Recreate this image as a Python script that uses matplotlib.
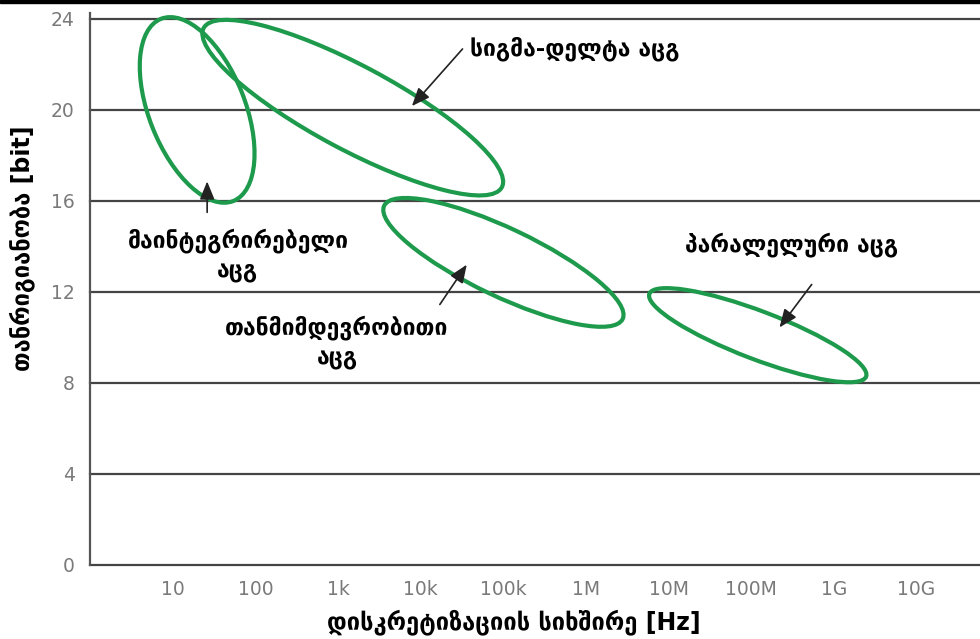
import matplotlib
matplotlib.use("Agg")
import matplotlib.pyplot as plt
from matplotlib.patches import Ellipse
from matplotlib.transforms import ScaledTranslation

# ---- data ----
freq_ticks = [1e1, 1e2, 1e3, 1e4, 1e5, 1e6, 1e7, 1e8, 1e9, 1e10]
freq_labels = ["10", "100", "1k", "10k", "100k", "1M", "10M", "100M", "1G", "10G"]
bit_ticks = [0, 4, 8, 12, 16, 20, 24]

adc_names = ["მაინტეგრირებელი\nაცგ", "სიგმა-დელტა აცგ",
             "თანმიმდევრობითი\nაცგ", "პარალელური აცგ"]
# region centres (frequency Hz, resolution bits)
region_freq = [19.6, 1.5e3, 1.0e5, 1.2e8]
region_bits = [20.0, 20.1, 13.3, 10.1]
# region shape (semi-axes in pixels, tilt in degrees)
region_a = [98, 169, 132, 116]
region_b = [48, 42, 34, 24]
region_angle = [-68.4, -28.1, -25.4, -20.9]

# annotation arrows: tip (freq, bits), tail (freq, bits)
arrow_tip_f = [25.9, 7.8e3, 3.6e4, 2.2e8]
arrow_tip_b = [16.86, 20.17, 13.2, 10.44]
arrow_tail_f = [25.9, 3.2e4, 1.7e4, 5.4e8]
arrow_tail_b = [15.5, 22.68, 11.45, 12.33]
# label anchor (freq, bits)
label_f = [61, 3.9e4, 966, 3.1e8]
label_b = [13.6, 22.68, 9.78, 14.09]
label_ha = ["center", "left", "center", "center"]

W, H = 980, 639
fig = plt.figure(figsize=(W / 100, H / 100), dpi=100)
ax = fig.add_axes([90 / W, (H - 565) / H, 1 - 90 / W, (565 - 13) / H])
ax.set_xscale("log")
ax.set_xlim(10 ** -0.005, 10 ** 10.77)
ax.set_ylim(0, 24.26)

for s in ["top", "right", "bottom"]:
    ax.spines[s].set_visible(False)
ax.spines["left"].set_color("#555555")
ax.spines["left"].set_linewidth(1.6)

ax.set_yticks(bit_ticks)
ax.set_yticklabels([str(b) for b in bit_ticks])
ax.set_xticks(freq_ticks)
ax.set_xticklabels(freq_labels)
ax.minorticks_off()
ax.tick_params(axis="both", length=0, labelcolor="#7a7a7a", labelsize=13.5)
ax.tick_params(axis="x", pad=11)
ax.tick_params(axis="y", pad=11)
for lab in ax.get_xticklabels() + ax.get_yticklabels():
    lab.set_fontfamily("DejaVu Sans")

for b in bit_ticks:
    ax.axhline(b, color="#444444", lw=1.6, zorder=1, clip_on=False)

green = "#1e9a4c"
for f, bt, a, bb, ang in zip(region_freq, region_bits, region_a, region_b, region_angle):
    tr = fig.dpi_scale_trans + ScaledTranslation(f, bt, ax.transData)
    e = Ellipse((0, 0), 2 * a / 100, 2 * bb / 100, angle=ang, transform=tr,
                fill=False, edgecolor=green, lw=3, zorder=3)
    ax.add_patch(e)

for tf, tb, sf, sb in zip(arrow_tip_f, arrow_tip_b, arrow_tail_f, arrow_tail_b):
    ax.annotate("", xy=(tf, tb), xytext=(sf, sb),
                arrowprops=dict(arrowstyle="-|>,head_length=1.1,head_width=0.45",
                                color="#222222", lw=1.2, shrinkA=0, shrinkB=0),
                zorder=4)

for name, lf, lb, ha in zip(adc_names, label_f, label_b, label_ha):
    ax.text(lf, lb, name, ha=ha, va="center", fontsize=16.5, fontweight="bold",
            family="DejaVu Sans", color="black", multialignment="center",
            linespacing=1.35, zorder=5)

fig.text(514 / W, 1 - 622 / H, "დისკრეტიზაციის სიხშირე [Hz]", ha="center",
         va="center", fontsize=17, fontweight="bold", family="DejaVu Sans")
fig.text(22 / W, 1 - 248 / H, "თანრიგიანობა [bit]", ha="center", va="center",
         rotation=90, fontsize=17, fontweight="bold", family="DejaVu Sans")

# top black strip
fig.patches.append(plt.Rectangle((0, 1 - 3 / H), 1, 3 / H, transform=fig.transFigure,
                                  color="black", zorder=10))

fig.savefig("out.png", dpi=100)
